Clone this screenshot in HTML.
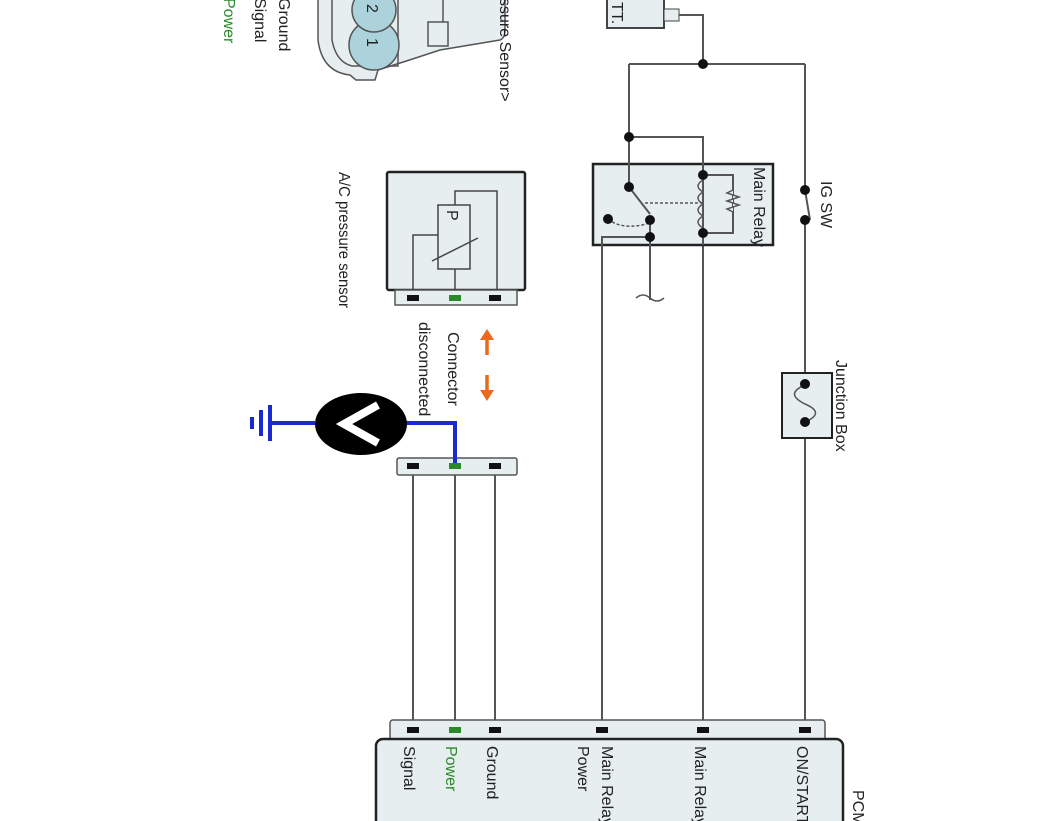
<!DOCTYPE html>
<html><head><style>html,body{margin:0;padding:0;background:#fff}svg{display:block}text{font-family:"Liberation Sans",sans-serif;font-size:16px;fill:#222}</style></head>
<body>
<svg width="1062" height="821" viewBox="0 0 1062 821" xmlns="http://www.w3.org/2000/svg">
<g stroke="#555" stroke-width="2" fill="none">
<!-- battery -->
<rect x="607" y="-5" width="57" height="33" fill="#e6eef0" stroke="#444"/>
<rect x="664" y="9" width="15" height="12" fill="#e6eef0" stroke="#444" stroke-width="1"/>
<polyline points="679,15 703,15 703,64"/>
<line x1="629" y1="64" x2="805" y2="64"/>
<line x1="629" y1="64" x2="629" y2="187"/>
<polyline points="629,137 703,137 703,730"/>
<line x1="805" y1="64" x2="805" y2="190"/>
<line x1="805" y1="220" x2="805" y2="730"/>
<!-- relay -->
<rect x="593" y="164" width="180" height="81" fill="#e6eef0" stroke="#222" stroke-width="2.5"/>
<line x1="629" y1="137" x2="629" y2="187"/>
<line x1="703" y1="137" x2="703" y2="245"/>
<polyline points="703,175 733,175 733,233 703,233"/>
<line x1="629" y1="187" x2="650" y2="214"/>
<polyline points="650,220 650,300"/>
<polyline points="650,237 602,237 602,730"/>
<line x1="805" y1="190" x2="810" y2="220"/>
<!-- junction box -->
<rect x="782" y="373" width="50" height="65" fill="#e6eef0" stroke="#222"/>
<!-- sensor wires -->
<line x1="413" y1="470" x2="413" y2="730"/>
<line x1="455" y1="470" x2="455" y2="730"/>
<line x1="495" y1="470" x2="495" y2="730"/>
</g>
<!-- relay internals -->
<g fill="none" stroke="#555" stroke-width="1.5">
<path d="M703,180 q-10,6 0,12 q-10,6 0,12 q-10,6 0,12 q-10,6 0,12"/>
<path d="M733,190 l-6,3 l12,4 l-12,4 l12,4 l-12,4 l6,3" fill="#e6eef0"/>
<line x1="645" y1="203" x2="703" y2="203" stroke-dasharray="3,2"/>
<path d="M608,219 q15,12 42,4" stroke-dasharray="3,2"/>
<path d="M636,298 q7,-6 14,0 q7,6 14,0"/>
<path d="M805,385 c-14,6 -14,12 0,19 c14,6 14,12 0,18" stroke-width="1.5"/>
</g>
<g fill="#111">
<circle cx="703" cy="64" r="5"/><circle cx="629" cy="137" r="5"/>
<circle cx="629" cy="187" r="5"/><circle cx="608" cy="219" r="5"/>
<circle cx="650" cy="220" r="5"/><circle cx="650" cy="237" r="5"/>
<circle cx="703" cy="175" r="5"/><circle cx="703" cy="233" r="5"/>
<circle cx="805" cy="190" r="5"/><circle cx="805" cy="220" r="5"/>
<circle cx="805" cy="384" r="5"/><circle cx="805" cy="422" r="5"/>
</g>
<!-- top connector -->
<g stroke="#555" stroke-width="1.5">
<path d="M318,-5 L318,40 Q322,72 350,75 L356,80 L375,80 L378,70 Q410,60 440,50 L500,40 Q505,38 505,30 L505,-5" fill="#e6eef0"/>
<path d="M332,-5 L332,40 Q336,62 352,66 L398,66 L398,-5" fill="none"/>
<circle cx="374" cy="45" r="25" fill="#acd3dc"/>
<circle cx="374" cy="10" r="22" fill="#acd3dc"/>
<rect x="428" y="22" width="20" height="24" fill="#e6eef0"/>
<polyline points="443,22 443,-5 465,-5" fill="none"/>
</g>
<text transform="translate(367,38) rotate(90)" font-size="18">1</text>
<text transform="translate(367,4) rotate(90)" font-size="18">2</text>
<text transform="translate(279,-2) rotate(90)">Ground</text>
<text transform="translate(255,-2) rotate(90)">Signal</text>
<text transform="translate(224,-2) rotate(90)" style="fill:#2a8a2a">Power</text>
<text transform="translate(500,-2) rotate(90)">ssure Sensor&gt;</text>
<!-- A/C sensor -->
<rect x="387" y="172" width="138" height="118" fill="#e6eef0" stroke="#222" stroke-width="2.5" rx="2"/>
<rect x="395" y="290" width="122" height="15" fill="#e6eef0" stroke="#555" stroke-width="1.5"/>
<g fill="none" stroke="#444" stroke-width="1.5">
<polyline points="413,290 413,235 438,235"/>
<rect x="438" y="205" width="32" height="64" fill="#e6eef0"/>
<polyline points="455,269 455,290"/>
<polyline points="455,205 455,191 497,191 497,290"/>
<line x1="432" y1="261" x2="478" y2="238"/>
</g>
<text transform="translate(447,210) rotate(90)" font-size="16">P</text>
<rect x="407" y="295" width="12" height="6" fill="#111"/><rect x="449" y="295" width="12" height="6" fill="#2a8a2a"/><rect x="489" y="295" width="12" height="6" fill="#111"/>
<text transform="translate(339,172) rotate(90)" font-size="15.5" textLength="136" lengthAdjust="spacingAndGlyphs">A/C pressure sensor</text>
<!-- arrows -->
<g fill="#e86a1a" stroke="#e86a1a" stroke-width="3.5">
<line x1="487" y1="337" x2="487" y2="355"/><polygon points="480,340 494,340 487,329" stroke="none"/>
<line x1="487" y1="375" x2="487" y2="393"/><polygon points="480,390 494,390 487,401" stroke="none"/>
</g>
<text transform="translate(448,332) rotate(90)" font-size="15.5">Connector</text>
<text transform="translate(419,322) rotate(90)" font-size="15.5">disconnected</text>
<!-- lower connector -->
<rect x="397" y="458" width="120" height="17" fill="#e6eef0" stroke="#555" stroke-width="1.5" rx="2"/>
<polyline points="455,466 455,423 405,423" fill="none" stroke="#1a2ad0" stroke-width="4"/>
<line x1="315" y1="423" x2="270" y2="423" stroke="#1a2ad0" stroke-width="4"/>
<line x1="270" y1="405" x2="270" y2="441" stroke="#1a2ad0" stroke-width="4"/>
<line x1="261" y1="410" x2="261" y2="436" stroke="#1a2ad0" stroke-width="4"/>
<line x1="252" y1="417" x2="252" y2="429" stroke="#1a2ad0" stroke-width="4"/>
<ellipse cx="361" cy="424" rx="46" ry="31" fill="#000"/>
<polyline points="378,405 344,424 378,443" fill="none" stroke="#fff" stroke-width="8"/>
<rect x="407" y="463" width="12" height="6" fill="#111"/><rect x="449" y="463" width="12" height="6" fill="#2a8a2a"/><rect x="489" y="463" width="12" height="6" fill="#111"/>
<!-- PCM -->
<rect x="390" y="720" width="435" height="25" fill="#e6eef0" stroke="#555" stroke-width="1.5" rx="3"/>
<rect x="376" y="739" width="467" height="100" fill="#e6eef0" stroke="#222" stroke-width="2.5" rx="7"/>
<rect x="407" y="727" width="12" height="6" fill="#111"/><rect x="449" y="727" width="12" height="6" fill="#2a8a2a"/><rect x="489" y="727" width="12" height="6" fill="#111"/>
<rect x="596" y="727" width="12" height="6" fill="#111"/><rect x="697" y="727" width="12" height="6" fill="#111"/><rect x="799" y="727" width="12" height="6" fill="#111"/>
<text transform="translate(404,746) rotate(90)">Signal</text>
<text transform="translate(446,746) rotate(90)" style="fill:#2a8a2a">Power</text>
<text transform="translate(487,746) rotate(90)">Ground</text>
<text transform="translate(602,746) rotate(90)">Main Relay</text>
<text transform="translate(578,746) rotate(90)">Power</text>
<text transform="translate(695,746) rotate(90)">Main Relay</text>
<text transform="translate(797,746) rotate(90)">ON/START</text>
<text transform="translate(853,790) rotate(90)">PCM</text>
<!-- labels -->
<text transform="translate(754,167) rotate(90)" font-size="16">Main Relay</text>
<text transform="translate(821,181) rotate(90)" font-size="16">IG SW</text>
<text transform="translate(836,360) rotate(90)" font-size="16">Junction Box</text>
<text transform="translate(612,2) rotate(90)" font-size="18">TT.</text>
</svg>
</body></html>
